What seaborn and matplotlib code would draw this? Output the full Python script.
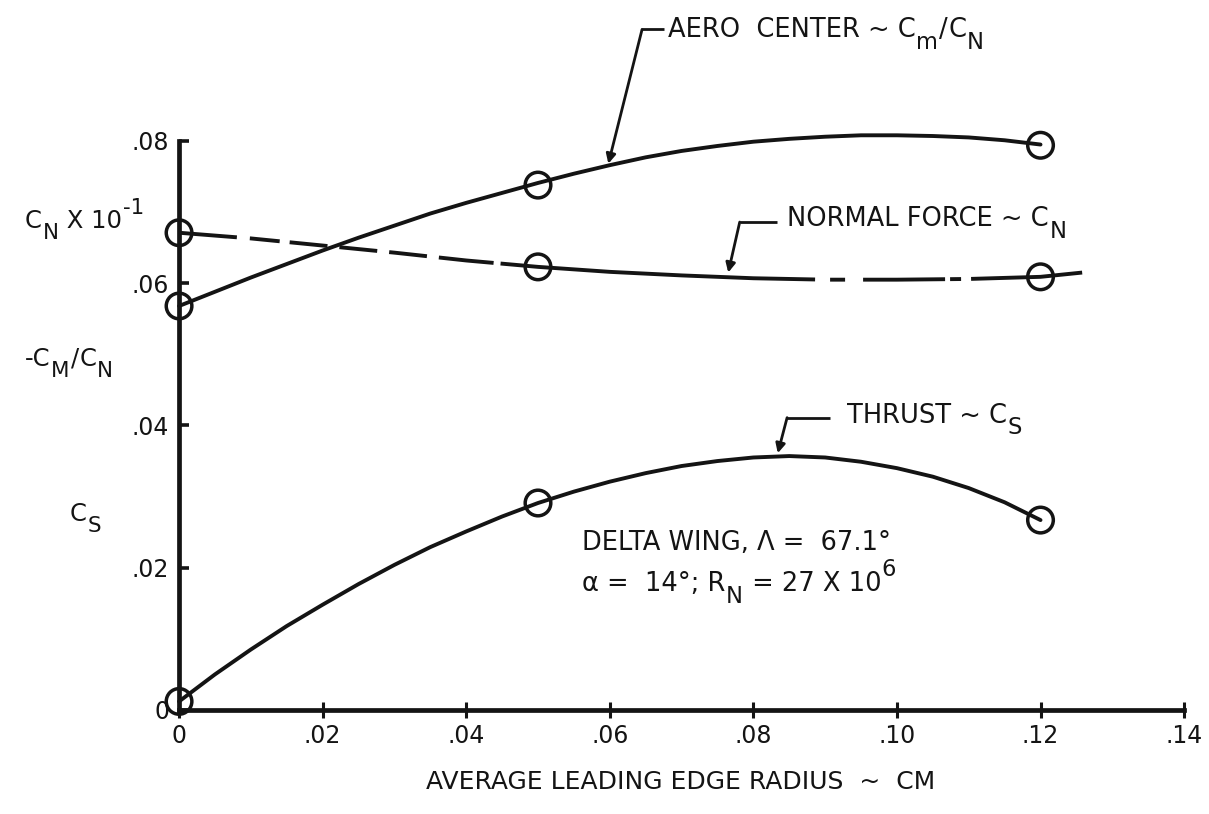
import matplotlib
matplotlib.use("Agg")
import matplotlib.pyplot as plt
import seaborn as sns

# Measured points (open circles)
x_meas = [0.0, 0.05, 0.12]
aero_meas = [0.0568, 0.0738, 0.0794]
normal_meas = [0.0671, 0.0623, 0.0609]
thrust_meas = [0.0012, 0.0291, 0.0267]

# Faired curves through the measurements
curve_x = [0.000, 0.005, 0.010, 0.015, 0.020, 0.025, 0.030, 0.035, 0.040, 0.045,
           0.050, 0.055, 0.060, 0.065, 0.070, 0.075, 0.080, 0.085, 0.090, 0.095,
           0.100, 0.105, 0.110, 0.115, 0.120]
aero_curve = [0.0568, 0.0588, 0.0608, 0.0627, 0.0646, 0.0664, 0.0681, 0.0698,
              0.0713, 0.0727, 0.0741, 0.0754, 0.0766, 0.0777, 0.0786, 0.0793,
              0.0799, 0.0803, 0.0806, 0.0808, 0.0808, 0.0807, 0.0805, 0.0801,
              0.0795]
thrust_curve = [0.0012, 0.0050, 0.0085, 0.0118, 0.0148, 0.0177, 0.0204, 0.0229,
                0.0251, 0.0272, 0.0291, 0.0307, 0.0321, 0.0333, 0.0343, 0.0350,
                0.0355, 0.0357, 0.0355, 0.0349, 0.0340, 0.0328, 0.0312, 0.0292,
                0.0267]
normal_x = [0.0, 0.01, 0.02, 0.03, 0.04, 0.05, 0.06, 0.07, 0.08, 0.09, 0.10, 0.11,
            0.12, 0.1258]
normal_curve = [0.0671, 0.0663, 0.0653, 0.0643, 0.0632, 0.0623, 0.0616, 0.0611,
                0.0607, 0.0605, 0.0605, 0.0606, 0.0609, 0.0615]

x_ticks = [0.0, 0.02, 0.04, 0.06, 0.08, 0.10, 0.12, 0.14]
x_ticklabels = ["0", ".02", ".04", ".06", ".08", ".10", ".12", ".14"]
y_ticks = [0.0, 0.02, 0.04, 0.06, 0.08]
y_ticklabels = ["0", ".02", ".04", ".06", ".08"]

sns.set_theme(style="white")
plt.rcParams["font.family"] = ["DejaVu Sans"]
plt.rcParams["lines.scale_dashes"] = False

INK = "#141414"
PX = 0.72  # points per pixel at 100 dpi
FS = 18.5  # lettering size
DESC = 0.236  # descent of the lettering font, in em

fig = plt.figure(figsize=(12.09, 8.14), dpi=100)
ax = fig.add_axes([0.1481, 0.1278, 0.8313, 0.699])
ax.set_xlim(0, 0.14)
ax.set_ylim(0, 0.08)

# Curves
sns.lineplot(x=curve_x, y=aero_curve, ax=ax, color=INK, lw=2.8, sort=False,
             estimator=None, clip_on=False)
sns.lineplot(x=curve_x, y=thrust_curve, ax=ax, color=INK, lw=2.8, sort=False,
             estimator=None, clip_on=False)
normal_dash = [v * PX for v in (58, 13, 30, 10, 38, 12, 38, 12, 38, 12, 55, 7,
                                315, 15, 15, 18, 82, 5, 11, 10, 200, 0)]
sns.lineplot(x=normal_x, y=normal_curve, ax=ax, color=INK, lw=2.8, sort=False,
             estimator=None, clip_on=False, linestyle=(0, normal_dash))

# Data circles
for yv in (aero_meas, normal_meas, thrust_meas):
    sns.scatterplot(x=x_meas, y=yv, ax=ax, marker="o", s=340, facecolor="none",
                    edgecolor=INK, linewidth=2.5, zorder=5, clip_on=False)

# Axes styling
for side in ("top", "right"):
    ax.spines[side].set_visible(False)
for side in ("left", "bottom"):
    ax.spines[side].set_linewidth(3.4)
    ax.spines[side].set_color(INK)
ax.spines["left"].set_bounds(0, 0.08)
ax.spines["bottom"].set_bounds(0, 0.14)
ax.set_xticks(x_ticks)
ax.set_xticklabels(x_ticklabels)
ax.set_yticks(y_ticks)
ax.set_yticklabels(y_ticklabels)
ax.tick_params(axis="y", left=True, direction="in", length=7, width=2.6,
               color=INK, labelsize=17, pad=7, labelcolor=INK)
ax.tick_params(axis="x", bottom=True, direction="inout", length=12, width=2.2,
               color=INK, labelsize=17, pad=4, labelcolor=INK)
ax.set_xlabel("")
ax.set_ylabel("")
fig.text(681 / 1209, 1 - 782 / 814, "AVERAGE LEADING EDGE RADIUS  ~  CM",
         fontsize=18, color=INK, ha="center", va="center")


def lettering(x, y, pieces, transform, fs=FS):
    """Chain text pieces left to right; 'sub'/'sup' pieces are shifted."""
    prev = ax.text(x, y, pieces[0][0], fontsize=fs, color=INK, ha="left",
                   va="baseline", transform=transform, clip_on=False)
    prev_kind, prev_fs = "n", fs
    shift = {"n": 0.0, "sub": -0.45 * fs, "sup": 0.6 * fs}
    for s, kind in pieces[1:]:
        size = fs if kind == "n" else 0.88 * fs
        # bottoms of chained boxes sit one descent below each baseline
        dy = (shift[kind] - DESC * size) - (shift[prev_kind] - DESC * prev_fs)
        prev = ax.annotate(s, xy=(1, 0), xycoords=prev, xytext=(0.5, dy),
                           textcoords="offset points", fontsize=size, color=INK,
                           ha="left", va="bottom", annotation_clip=False)
        prev_kind, prev_fs = kind, size
    return prev


def leader(stub, corner, tip):
    ax.plot([stub[0], corner[0]], [stub[1], corner[1]], color=INK, lw=2.0,
            clip_on=False, solid_capstyle="butt")
    ax.annotate("", xy=tip, xytext=corner, annotation_clip=False,
                arrowprops=dict(arrowstyle="-|>", color=INK, lw=2.0,
                                mutation_scale=14, shrinkA=0, shrinkB=0))


# Left-hand axis captions
lettering(25 / 1209, 1 - 228 / 814,
          [("C", "n"), ("N", "sub"), (" X 10", "n"), ("-1", "sup")],
          fig.transFigure, fs=17.5)
lettering(25 / 1209, 1 - 366 / 814,
          [("-C", "n"), ("M", "sub"), ("/", "n"), ("C", "n"), ("N", "sub")],
          fig.transFigure, fs=17.5)
lettering(70 / 1209, 1 - 521 / 814, [("C", "n"), ("S", "sub")],
          fig.transFigure, fs=17.5)

# Curve labels with leaders
lettering(0.0681, 0.0946,
          [("AERO  CENTER ~ C", "n"), ("m", "sub"), ("/", "n"), ("C", "n"),
           ("N", "sub")], ax.transData)
leader((0.0676, 0.0957), (0.0645, 0.0957), (0.0598, 0.0768))

lettering(0.0847, 0.0680, [("NORMAL FORCE ~ C", "n"), ("N", "sub")],
          ax.transData)
leader((0.0833, 0.0686), (0.0781, 0.0686), (0.0765, 0.0615))

lettering(0.0930, 0.0404, [("THRUST ~ C", "n"), ("S", "sub")], ax.transData)
leader((0.0907, 0.0411), (0.0847, 0.0411), (0.0834, 0.0361))

lettering(0.0561, 0.0225, [("DELTA WING, Λ =  67.1°", "n")], ax.transData)
lettering(0.0561, 0.0167,
          [("α =  14°; R", "n"), ("N", "sub"), (" = 27 X 10", "n"), ("6", "sup")],
          ax.transData)

fig.savefig("out.png", dpi=100, facecolor="white")
